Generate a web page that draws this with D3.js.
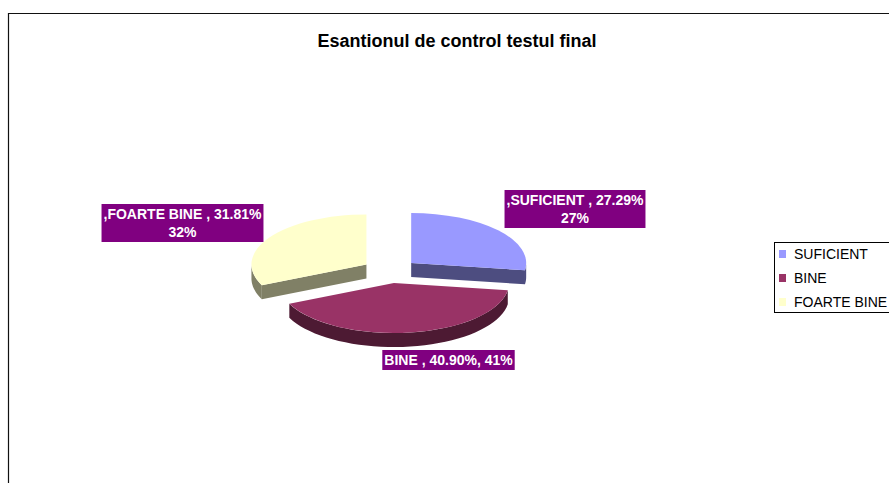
<!DOCTYPE html>
<html>
<head>
<meta charset="utf-8">
<script src="https://cdn.jsdelivr.net/npm/d3@7"></script>
<style>
  body { margin: 0; background: #fff; overflow: hidden; }
  svg { display: block; font-family: "Liberation Sans", Arial, sans-serif; }
</style>
</head>
<body>
<svg id="chart" width="889" height="483"></svg>
<script>
var width = 889;
var height = 483;

// data
var categories = ["SUFICIENT", "BINE", "FOARTE BINE"];
var percents = [27.29, 40.90, 31.81];
var topColors = ["#9999FF", "#993366", "#FFFFCC"];
var sideColors = ["#4D4D80", "#4D1A33", "#808066"];
var title = "Esantionul de control testul final";

// layout
var cx = 390, cy = 271;
var rx = 115, ry = 50;
var depth = 14;
var explode = 28;
var k = ry / rx;

// label boxes (center x, center y), Excel style text
var labelLayout = [
	{cx: 575, cy: 209, prefix: ",", twoLines: true},
	{cx: 448.5, cy: 360, prefix: "", twoLines: false},
	{cx: 182.5, cy: 223, prefix: ",", twoLines: true}
];

var svg = d3.select("#chart");

// chart area border (only left and top visible)
svg.append("path")
	.attr("d", "M8.5," + height + "V13.5H" + width)
	.attr("fill", "none")
	.attr("stroke", "#111")
	.attr("stroke-width", 1.2);

svg.append("text")
	.attr("x", 457)
	.attr("y", 47)
	.attr("text-anchor", "middle")
	.attr("font-size", 18)
	.attr("font-weight", "bold")
	.attr("fill", "#000")
	.text(title);

var pie = d3.pie().sort(null).value(function(d) { return d; });
var arcs = pie(percents);

arcs.forEach(function(a, i) {
	var mid = (a.startAngle + a.endAngle) / 2;
	a.cx = cx + explode * Math.sin(mid);
	a.cy = cy - explode * Math.cos(mid) * k;
	a.i = i;
});

var pt = function(a, t, dy) {
	return [a.cx + rx * Math.sin(t), a.cy - ry * Math.cos(t) + (dy || 0)];
}

var line = d3.line();

// back to front
var order = arcs.slice().sort(function(a, b) { return a.cy - b.cy; });

var g = svg.append("g");

order.forEach(function(a) {
	var i = a.i;
	var sg = g.append("g");

	// cut faces
	var faces = [];
	if (Math.sin(a.startAngle) < -1e-6) faces.push(a.startAngle);
	if (Math.sin(a.endAngle) > 1e-6) faces.push(a.endAngle);
	faces.forEach(function(t) {
		var o = pt(a, t, 0), ob = pt(a, t, depth);
		sg.append("path")
			.attr("d", line([[a.cx, a.cy], o, ob, [a.cx, a.cy + depth]]) + "Z")
			.attr("fill", sideColors[i]);
	});

	// outer wall, front half only
	var lo = Math.max(a.startAngle, Math.PI / 2);
	var hi = Math.min(a.endAngle, Math.PI * 1.5);
	if (hi > lo) {
		var ts = d3.range(0, 41).map(function(j) { return lo + (hi - lo) * j / 40; });
		var ptsTop = ts.map(function(t) { return pt(a, t, 0); });
		var ptsBot = ts.slice().reverse().map(function(t) { return pt(a, t, depth); });
		sg.append("path")
			.attr("d", line(ptsTop.concat(ptsBot)) + "Z")
			.attr("fill", sideColors[i]);
	}

	// top face
	sg.append("path")
		.attr("transform", "translate(" + a.cx + "," + a.cy + ") scale(1," + k + ")")
		.attr("d", d3.arc().innerRadius(0).outerRadius(rx)(a))
		.attr("fill", topColors[i]);
});

// data labels
var fmt2 = d3.format(".2f");
var fmt0 = d3.format(".0f");
arcs.forEach(function(a, i) {
	var L = labelLayout[i];
	var lines;
	if (L.twoLines) {
		lines = [L.prefix + categories[i] + " , " + fmt2(percents[i]) + "%", fmt0(percents[i]) + "%"];
	} else {
		lines = [L.prefix + categories[i] + " , " + fmt2(percents[i]) + "%, " + fmt0(percents[i]) + "%"];
	}
	var lg = svg.append("g");
	var rect = lg.append("rect").attr("fill", "#800080");
	var lh = 18;
	var maxW = 0;
	lines.forEach(function(s, j) {
		var t = lg.append("text")
			.attr("x", L.cx)
			.attr("y", L.cy - (lines.length - 1) * lh / 2 + j * lh)
			.attr("dy", "0.35em")
			.attr("text-anchor", "middle")
			.attr("font-size", 14)
			.attr("font-weight", "bold")
			.attr("fill", "#fff")
			.text(s);
		maxW = Math.max(maxW, t.node().getComputedTextLength());
	});
	var bw = maxW + 4;
	var bh = lines.length * lh + 2;
	rect.attr("x", L.cx - bw / 2).attr("y", L.cy - bh / 2)
		.attr("width", bw).attr("height", bh);
});

// legend (box runs past the right edge, as in the original)
var legend = svg.append("g");
legend.append("rect")
	.attr("x", 774.5).attr("y", 242.5)
	.attr("width", 160).attr("height", 70)
	.attr("fill", "#fff")
	.attr("stroke", "#000")
	.attr("stroke-width", 1);

var ly = d3.scalePoint().domain(categories).range([254, 302]);
categories.forEach(function(c, i) {
	legend.append("rect")
		.attr("x", 779).attr("y", ly(c) - 4)
		.attr("width", 7).attr("height", 8)
		.attr("fill", topColors[i]);
	legend.append("text")
		.attr("x", 794).attr("y", ly(c))
		.attr("dy", "0.36em")
		.attr("font-size", 14)
		.attr("fill", "#000")
		.text(c);
});
</script>
</body>
</html>
